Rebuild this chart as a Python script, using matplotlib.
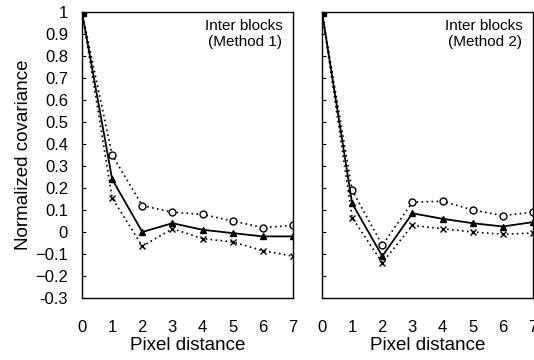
import matplotlib.pyplot as plt

plt.rcParams['font.family'] = ['Liberation Sans', 'DejaVu Sans']

# Pixel distance
distance = [0, 1, 2, 3, 4, 5, 6, 7]

# Method 1 (left panel)
m1_circle = [1.0, 0.35, 0.12, 0.09, 0.08, 0.05, 0.02, 0.03]
m1_triangle = [1.0, 0.24, 0.0, 0.04, 0.01, -0.005, -0.02, -0.02]
m1_cross = [1.0, 0.155, -0.065, 0.015, -0.03, -0.045, -0.085, -0.11]

# Method 2 (right panel)
m2_circle = [1.0, 0.19, -0.06, 0.135, 0.14, 0.10, 0.075, 0.09]
m2_triangle = [1.0, 0.13, -0.11, 0.085, 0.06, 0.04, 0.025, 0.045]
m2_cross = [1.0, 0.065, -0.14, 0.03, 0.015, 0.0, -0.01, -0.005]

yticks = [1, 0.9, 0.8, 0.7, 0.6, 0.5, 0.4, 0.3, 0.2, 0.1, 0, -0.1, -0.2, -0.3]
ytick_labels = ['1', '0.9', '0.8', '0.7', '0.6', '0.5', '0.4', '0.3', '0.2',
                '0.1', '0', '\u22120.1', '\u22120.2', '-0.3']

fig = plt.figure(figsize=(5.34, 3.6), dpi=100)
ax1 = fig.add_axes([82 / 534, 62 / 360, 211 / 534, 286 / 360])
ax2 = fig.add_axes([322 / 534, 62 / 360, 211 / 534, 286 / 360])

dots = (0, (1, 2))


def draw(ax, circ, tri, cross, title):
    ax.plot(distance, circ, color='black', lw=1.2, ls=dots, marker='o',
            mfc='white', ms=5, mew=1)
    ax.plot(distance, tri, color='black', lw=1.3, ls='-', marker='^', ms=5)
    ax.plot(distance, cross, color='black', lw=1.2, ls=dots, marker='x',
            ms=5, mew=1)
    ax.plot([0], [1], color='black', marker='s', ms=6, ls='none')
    ax.set_xlim(0, 7)
    ax.set_ylim(-0.3, 1)
    ax.set_xticks(distance)
    ax.set_yticks(yticks)
    ax.tick_params(axis='x', length=0, pad=16, labelsize=12)
    ax.tick_params(axis='y', direction='in', length=3, labelsize=12, pad=10)
    ax.set_xlabel('Pixel distance', fontsize=13.5, labelpad=1)
    ax.text(0.95, 0.975, title, transform=ax.transAxes, ha='right', va='top',
            fontsize=11, linespacing=1.2)
    for s in ax.spines.values():
        s.set_linewidth(1.0)


draw(ax1, m1_circle, m1_triangle, m1_cross, 'Inter blocks\n(Method 1)')
draw(ax2, m2_circle, m2_triangle, m2_cross, 'Inter blocks\n(Method 2)')

ax1.set_yticklabels(ytick_labels)
ax1.set_ylabel('Normalized covariance', fontsize=13.5, labelpad=2)
ax2.set_yticklabels([])

fig.savefig('out.png', dpi=100)
